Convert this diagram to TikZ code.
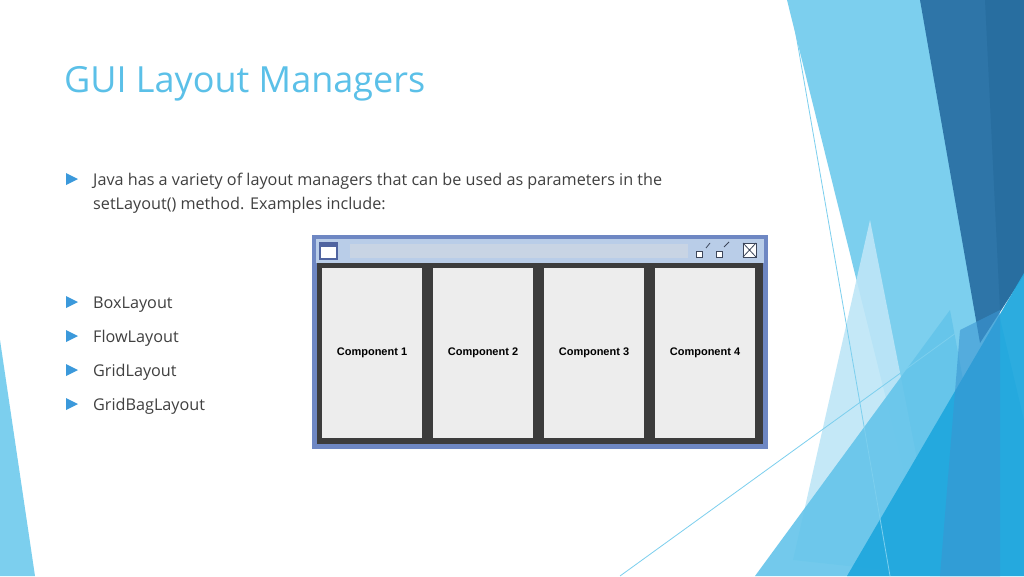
\documentclass[tikz,border=0pt]{standalone}
\usepackage{fontspec}
\setmainfont{Open Sans}
\setsansfont{Liberation Sans}
\begin{document}
\begin{tikzpicture}[x=1pt,y=-1pt,
  bul/.style={fill=cyan!70!blue!80, draw=none},
  btxt/.style={anchor=base west, font=\fontsize{16.2}{20}\selectfont, text=black!75, inner sep=0},
  comp/.style={fill=black!7, draw=none, minimum width=100pt, minimum height=170pt, inner sep=0, font=\sffamily\bfseries\fontsize{11}{13}\selectfont}]
\useasboundingbox (0,0) rectangle (1024,576);
\fill[white] (0,0) rectangle (1024,576);
% background decoration
\fill[color={rgb,255:red,124;green,207;blue,238}] (787,0) -- (925,0) -- (1024,420) -- (1024,576) -- (930,576) -- cycle;
\fill[color={rgb,255:red,46;green,117;blue,168}] (920,0) -- (1024,0) -- (1024,275) -- (980,343) -- cycle;
\fill[color={rgb,255:red,40;green,110;blue,160}] (985,0) -- (1024,0) -- (1024,275) -- (1000,310) -- cycle;
\fill[color={rgb,255:red,190;green,230;blue,247}, opacity=0.9] (793,560) -- (870,220) -- (940,576) -- cycle;
\fill[color={rgb,255:red,100;green,196;blue,234}, opacity=0.9] (755,576) -- (950,310) -- (1000,576) -- cycle;
\fill[color={rgb,255:red,33;green,168;blue,222}, opacity=0.95] (1024,273) -- (847,576) -- (1024,576) -- cycle;
\fill[color={rgb,255:red,58;green,150;blue,210}, opacity=0.6] (960,330) -- (1000,310) -- (1000,576) -- (940,576) -- cycle;
\fill[color={rgb,255:red,124;green,207;blue,238}] (0,340) -- (35,576) -- (0,576) -- cycle;
\draw[color={rgb,255:red,124;green,207;blue,238}, line width=0.8] (790,0) -- (890,576);
\draw[color={rgb,255:red,124;green,207;blue,238}, line width=0.8] (620,576) -- (960,330);
% title
\node[anchor=base west, inner sep=0, text={rgb,255:red,91;green,192;blue,232}, font=\fontsize{36}{40}\selectfont] (title) at (64,92) {GUI Layout Managers};
% bullets
\foreach \y/\n in {179/b1,302/b2,336/b3,370/b4,404/b5}{
  \fill[bul] (66,\y-6) -- (78,\y) -- (66,\y+6) -- cycle;
}
\node[btxt] (t1) at (93,185) {Java has a variety of layout managers that can be used as parameters in the};
\node[btxt] (t1b) at (93,209) {setLayout() method. Examples include:};
\node[btxt] (t2) at (93,308) {BoxLayout};
\node[btxt] (t3) at (93,342) {FlowLayout};
\node[btxt] (t4) at (93,376) {GridLayout};
\node[btxt] (t5) at (93,410) {GridBagLayout};
% window
\fill[color={rgb,255:red,110;green,135;blue,195}] (312,235) rectangle (768,449);
\fill[color={rgb,255:red,185;green,205;blue,232}] (316,239) rectangle (764,263);
\fill[color={rgb,255:red,200;green,212;blue,228}] (350,244) rectangle (688,258);
\draw[color={rgb,255:red,80;green,100;blue,160}, line width=1.2, fill=white] (320,243) rectangle (337,259);
\fill[color={rgb,255:red,80;green,100;blue,160}] (320,243) rectangle (337,247);
\draw[color={rgb,255:red,60;green,70;blue,90}, line width=1, fill=white] (696,251) rectangle (702,257);
\draw[color={rgb,255:red,60;green,70;blue,90}, line width=1, fill=white] (716,251) rectangle (722,257);
\draw[color={rgb,255:red,60;green,70;blue,90}, line width=0.8] (710,243) -- (706,248) (724,247) -- (729,242);
\draw[color={rgb,255:red,60;green,70;blue,90}, line width=1, fill=white] (743,243) rectangle (756,257);
\draw[color={rgb,255:red,60;green,70;blue,90}, line width=0.8] (743,243) -- (756,257) (756,243) -- (743,257);
\fill[color={rgb,255:red,60;green,60;blue,60}] (317,263) rectangle (763,444);
\node[comp] (c1) at (372,353) {Component 1};
\node[comp] (c2) at (483,353) {Component 2};
\node[comp] (c3) at (594,353) {Component 3};
\node[comp] (c4) at (705,353) {Component 4};
\end{tikzpicture}
\end{document}
